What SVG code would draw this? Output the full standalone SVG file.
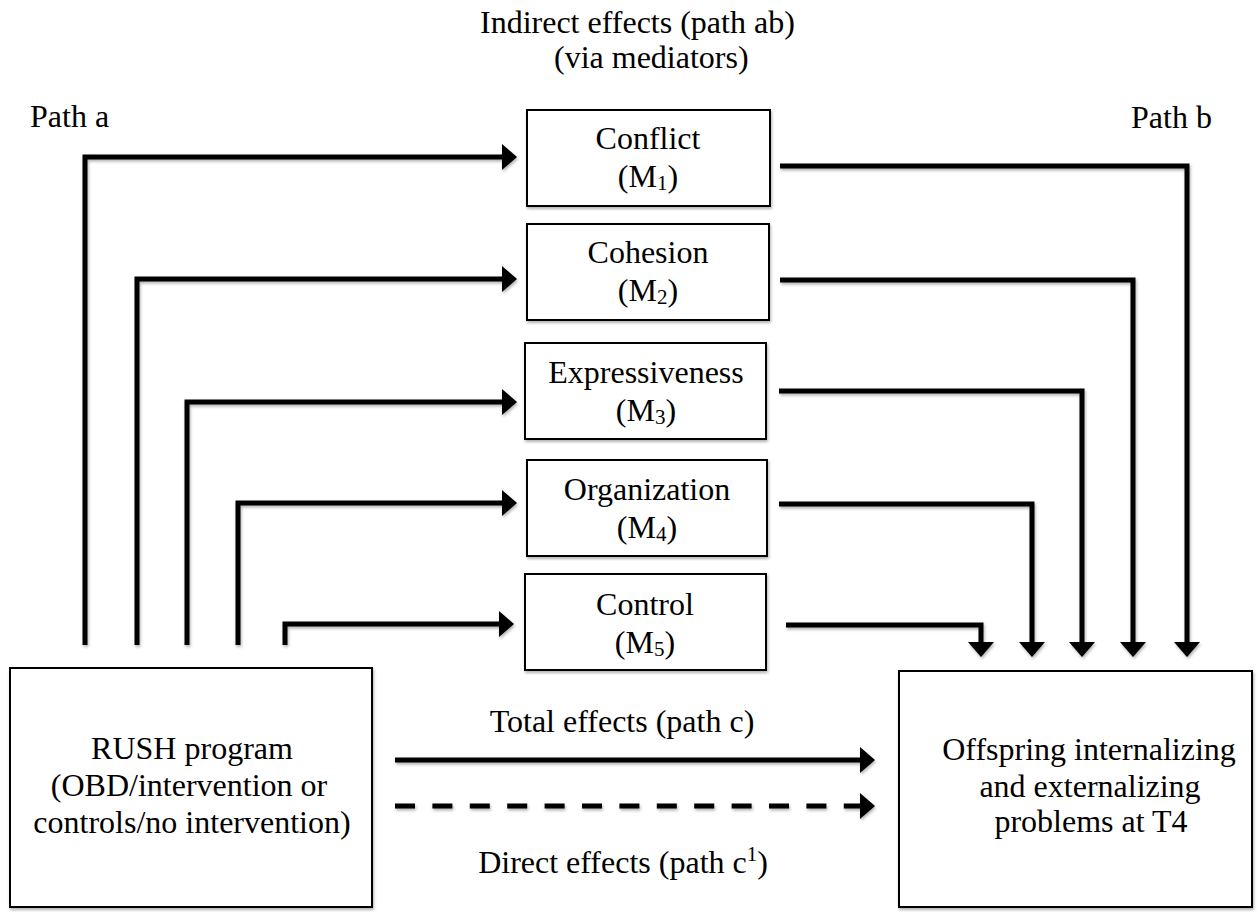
<svg xmlns="http://www.w3.org/2000/svg" width="1259" height="912" viewBox="0 0 1259 912" font-family="Liberation Serif, Times New Roman, serif">
<style>
  text { font-family: 'Liberation Serif', 'Times New Roman', 'DejaVu Serif', serif; font-size: 32px; fill: #000; }
  .c { text-anchor: middle; }
  .box { fill: #fff; stroke: #000; stroke-width: 2; }
  .conn { fill: none; stroke: #000; stroke-width: 5; stroke-linejoin: miter; }
  .sub { font-size: 21px; }
</style>
<defs>
  <marker id="arrow" markerUnits="userSpaceOnUse" markerWidth="16" markerHeight="28" refX="5" refY="13" orient="auto" viewBox="0 0 16 28">
    <path d="M0,0 L15,13 L0,26 z" fill="#000"/>
  </marker>
  <filter id="sh" x="-5%" y="-5%" width="110%" height="110%">
    <feDropShadow dx="1" dy="2" stdDeviation="1.5" flood-color="#000" flood-opacity="0.3"/>
  </filter>
</defs>

<g id="labels">
  <text x="480" y="33">Indirect effects (path ab)</text>
  <text x="554" y="68">(via mediators)</text>
  <text x="30" y="127">Path a</text>
  <text x="1131" y="128">Path b</text>
</g>

<g id="connectors" filter="url(#sh)">
  <path class="conn" d="M85,645 V157 H507" marker-end="url(#arrow)"/>
  <path class="conn" d="M137,645 V279 H507" marker-end="url(#arrow)"/>
  <path class="conn" d="M187,645 V402 H507" marker-end="url(#arrow)"/>
  <path class="conn" d="M238,645 V503 H507" marker-end="url(#arrow)"/>
  <path class="conn" d="M285,645 V624 H504" marker-end="url(#arrow)"/>

  <path class="conn" d="M780,166 H1187 V647" marker-end="url(#arrow)"/>
  <path class="conn" d="M780,280 H1133 V647" marker-end="url(#arrow)"/>
  <path class="conn" d="M779,391 H1082 V647" marker-end="url(#arrow)"/>
  <path class="conn" d="M779,504 H1032 V647" marker-end="url(#arrow)"/>
  <path class="conn" d="M786,625 H981 V647" marker-end="url(#arrow)"/>

  <path class="conn" d="M395,760 H865" marker-end="url(#arrow)"/>
  <path class="conn" d="M395,806 H865" stroke-dasharray="20 17.4" marker-end="url(#arrow)"/>
</g>

<g id="edge-labels">
  <text class="c" x="622" y="732">Total effects (path c)</text>
  <text class="c" x="623" y="873">Direct effects (path c<tspan class="sub" dy="-12">1</tspan><tspan dy="12">)</tspan></text>
</g>

<g id="m1">
  <rect class="box" x="527" y="110" width="243" height="96" filter="url(#sh)"/>
  <text class="c" x="648" y="149">Conflict</text>
  <text class="c" x="648" y="187">(M<tspan class="sub" dy="3">1</tspan><tspan dy="-3">)</tspan></text>
</g>
<g id="m2">
  <rect class="box" x="527" y="224" width="242" height="96" filter="url(#sh)"/>
  <text class="c" x="648" y="263">Cohesion</text>
  <text class="c" x="648" y="301">(M<tspan class="sub" dy="3">2</tspan><tspan dy="-3">)</tspan></text>
</g>
<g id="m3">
  <rect class="box" x="525" y="343" width="241" height="96" filter="url(#sh)"/>
  <text class="c" x="646" y="383">Expressiveness</text>
  <text class="c" x="646" y="421">(M<tspan class="sub" dy="3">3</tspan><tspan dy="-3">)</tspan></text>
</g>
<g id="m4">
  <rect class="box" x="527" y="460" width="240" height="96" filter="url(#sh)"/>
  <text class="c" x="647" y="500">Organization</text>
  <text class="c" x="647" y="538">(M<tspan class="sub" dy="3">4</tspan><tspan dy="-3">)</tspan></text>
</g>
<g id="m5">
  <rect class="box" x="525" y="574" width="241" height="96" filter="url(#sh)"/>
  <text class="c" x="645" y="615">Control</text>
  <text class="c" x="645" y="653">(M<tspan class="sub" dy="3">5</tspan><tspan dy="-3">)</tspan></text>
</g>

<g id="rush">
  <rect class="box" x="10" y="668" width="362" height="239" filter="url(#sh)"/>
  <text class="c" x="192" y="759">RUSH program</text>
  <text class="c" x="189" y="796">(OBD/intervention or</text>
  <text class="c" x="192" y="833">controls/no intervention)</text>
</g>

<g id="offspring">
  <rect class="box" x="899" y="671" width="353" height="236" filter="url(#sh)"/>
  <text class="c" x="1089" y="760">Offspring internalizing</text>
  <text class="c" x="1090" y="797">and externalizing</text>
  <text class="c" x="1091" y="832">problems at T4</text>
</g>
</svg>
